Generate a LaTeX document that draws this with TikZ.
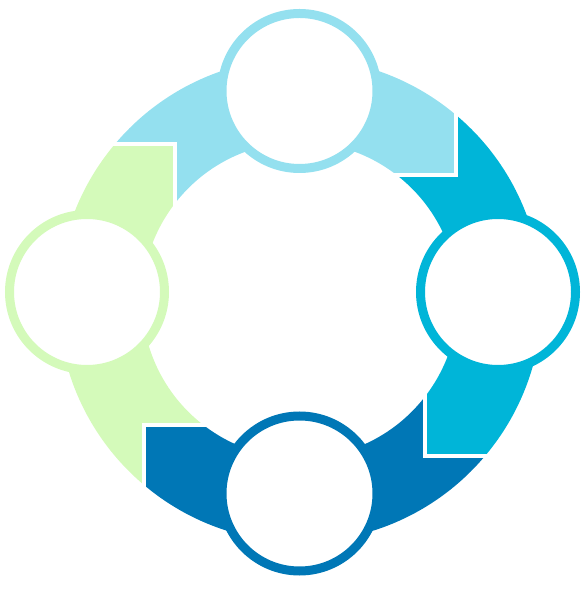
\documentclass[tikz,border=0pt]{standalone}
\definecolor{cLight}{HTML}{94E0EF}
\definecolor{cCyan}{HTML}{00B5D8}
\definecolor{cDark}{HTML}{0077B6}
\definecolor{cGreen}{HTML}{D4FABA}
\begin{document}
\begin{tikzpicture}[x=1pt,y=1pt,
  gapline/.style={white, line width=4pt, line join=miter},
  hub/.style={circle, fill=white, line width=9pt, minimum size=155pt, inner sep=0pt, outer sep=0pt}]
\useasboundingbox (-300pt,-301pt) rectangle (286pt,300pt);
% ring segments (clockwise chevron arrows)
\fill[cLight] (139.87:242pt) arc[start angle=139.87, end angle=49.87, radius=242pt]
  -- (156pt,125pt) -- (52.3:158pt) arc[start angle=52.3, end angle=142.3, radius=158pt]
  -- (-125pt,156pt) -- cycle;
\fill[cCyan] (49.87:242pt) arc[start angle=49.87, end angle=-40.13, radius=242pt]
  -- (125pt,-156pt) -- (-37.7:158pt) arc[start angle=-37.7, end angle=52.3, radius=158pt]
  -- (156pt,125pt) -- cycle;
\fill[cDark] (-40.13:242pt) arc[start angle=-40.13, end angle=-130.13, radius=242pt]
  -- (-156pt,-125pt) -- (-127.7:158pt) arc[start angle=-127.7, end angle=-37.7, radius=158pt]
  -- (125pt,-156pt) -- cycle;
\fill[cGreen] (-130.13:242pt) arc[start angle=-130.13, end angle=-220.13, radius=242pt]
  -- (-125pt,156pt) -- (-217.7:158pt) arc[start angle=-217.7, end angle=-127.7, radius=158pt]
  -- (-156pt,-125pt) -- cycle;
% white gaps between segments
\draw[gapline] (156pt,200pt) -- (156pt,125pt) -- (80pt,125pt);
\draw[gapline] (200pt,-156pt) -- (125pt,-156pt) -- (125pt,-80pt);
\draw[gapline] (-156pt,-200pt) -- (-156pt,-125pt) -- (-80pt,-125pt);
\draw[gapline] (-200pt,156pt) -- (-125pt,156pt) -- (-125pt,80pt);
% circles
\node[hub, draw=cLight] (top) at (-0.5pt,209pt) {};
\node[hub, draw=cCyan] (right) at (198pt,8pt) {};
\node[hub, draw=cDark] (bottom) at (-0.5pt,-193.5pt) {};
\node[hub, draw=cGreen] (left) at (-213pt,8pt) {};
\end{tikzpicture}
\end{document}
